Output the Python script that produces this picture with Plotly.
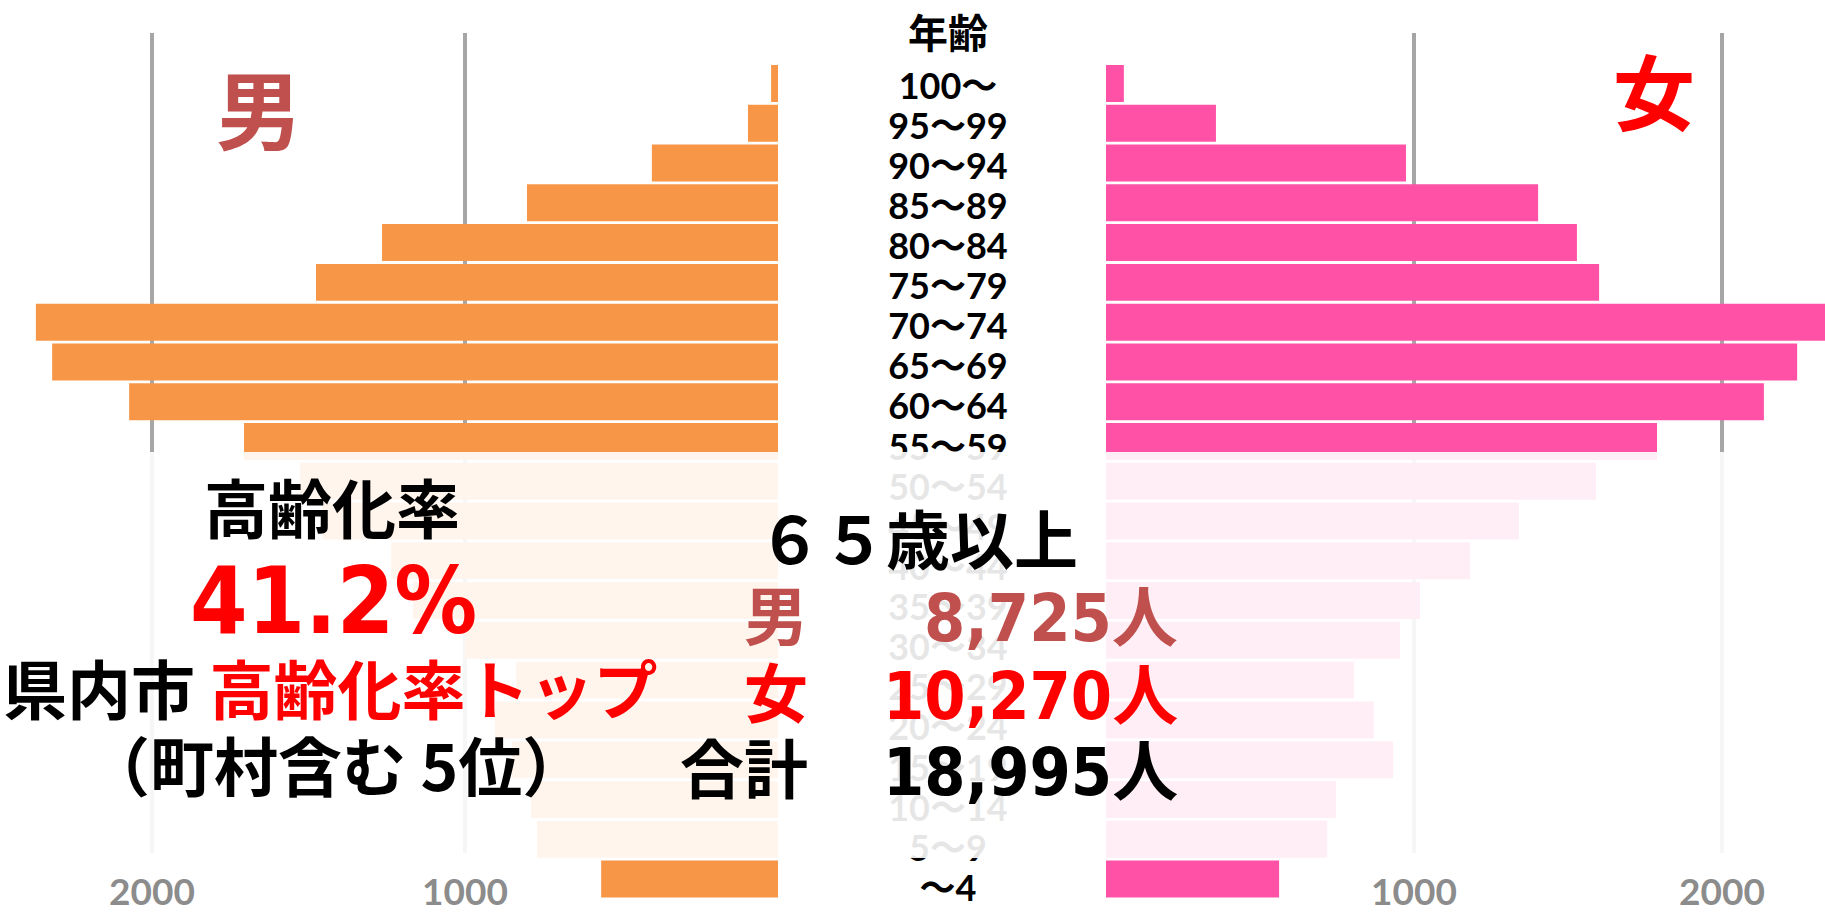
import plotly.graph_objects as go

# ---------------- data ----------------
age_labels = ["100～", "95～99", "90～94", "85～89", "80～84", "75～79", "70～74",
              "65～69", "60～64", "55～59", "50～54", "45～49", "40～44", "35～39",
              "30～34", "25～29", "20～24", "15～19", "10～14", "5～9", "～4"]
male = [22, 96, 403, 802, 1265, 1476, 2371, 2319, 2073, 1706, 1527,
        1454, 1236, 1166, 1000, 837, 904, 850, 789, 770, 565]
female = [58, 357, 974, 1403, 1529, 1601, 2380, 2244, 2136, 1789, 1591,
          1341, 1182, 1019, 955, 805, 870, 932, 747, 718, 562]
tick_vals = [1000, 2000]
tick_text = ["1000", "2000"]
elderly_male = 8725
elderly_female = 10270
elderly_total = elderly_male + elderly_female
aging_rate = 41.2
rank_incl_towns = 5

# ---------------- geometry helpers ----------------
W, H = 1825, 916


def px(x):
    return x / W


def py(y):
    return 1 - y / H


MALE_UNIT_PX = 0.313      # pixels per person, male panel
FEM_UNIT_PX = 0.308       # pixels per person, female panel
MALE_BASE = 778           # x pixel of the male bars' base
FEM_BASE = 1106           # x pixel of the female bars' base
ROW = 39.775
BAR_TOP = 83.5 - ROW / 2
BAR_BOT = 879 + ROW / 2
LAB_ROW = 40.125
LAB_TOP = 89.5 - LAB_ROW / 2
LAB_BOT = 892 + LAB_ROW / 2

MALE_C = "#F79646"
FEMALE_C = "#FF52A6"
MALE_TXT = "#C0504D"
RED = "#FF0000"
GRID = "#A6A6A6"
CJK = "Noto Sans CJK JP"
LAT = "Lato, Noto Sans CJK JP"
NUM = "DejaVu Sans Condensed, DejaVu Sans, Noto Sans CJK JP"

n = len(age_labels)
rng_cat = [n - 0.5, -0.5]

fig = go.Figure()
fig.add_trace(go.Bar(y=age_labels, x=male, orientation="h",
                     marker=dict(color=MALE_C, line=dict(width=0)),
                     xaxis="x", yaxis="y", hoverinfo="skip", showlegend=False))
fig.add_trace(go.Bar(y=age_labels, x=female, orientation="h",
                     marker=dict(color=FEMALE_C, line=dict(width=0)),
                     xaxis="x2", yaxis="y2", hoverinfo="skip", showlegend=False))
fig.add_trace(go.Scatter(x=[0] * n, y=age_labels, mode="text", text=age_labels,
                         textposition="middle center",
                         textfont=dict(family=LAT, size=36, color="black", weight="bold"),
                         xaxis="x3", yaxis="y3", hoverinfo="skip", showlegend=False))

tickfont = dict(family=LAT, size=37, color="#8C8C8C", weight="bold")
tick_pos = py(867)

fig.update_layout(
    width=W, height=H,
    margin=dict(l=0, r=0, t=0, b=0, pad=0),
    paper_bgcolor="white", plot_bgcolor="white",
    bargap=0.07,
    xaxis=dict(domain=[0, px(MALE_BASE)], range=[MALE_BASE / MALE_UNIT_PX, 0],
               tickvals=tick_vals, ticktext=tick_text, tickfont=tickfont,
               anchor="free", position=tick_pos, showgrid=False, zeroline=False,
               showline=False, ticks=""),
    yaxis=dict(domain=[py(BAR_BOT), py(BAR_TOP)], range=rng_cat, anchor="x",
               showticklabels=False, showgrid=False, zeroline=False, ticks=""),
    xaxis2=dict(domain=[px(FEM_BASE), 1], range=[0, (W - FEM_BASE) / FEM_UNIT_PX],
                tickvals=tick_vals, ticktext=tick_text, tickfont=tickfont,
                anchor="free", position=tick_pos, showgrid=False, zeroline=False,
                showline=False, ticks=""),
    yaxis2=dict(domain=[py(BAR_BOT), py(BAR_TOP)], range=rng_cat, anchor="x2",
                showticklabels=False, showgrid=False, zeroline=False, ticks=""),
    xaxis3=dict(domain=[px(848), px(1048)], range=[-1, 1], visible=False),
    yaxis3=dict(domain=[py(LAB_BOT), py(LAB_TOP)], range=rng_cat, anchor="x3",
                visible=False),
)

shapes = []
for xr in ("x", "x2"):
    for v in tick_vals:
        shapes.append(dict(type="line", xref=xr, yref="paper", x0=v, x1=v,
                           y0=py(853), y1=py(33), layer="below",
                           line=dict(color=GRID, width=4)))
# translucent white veil over the middle age groups
shapes.append(dict(type="rect", xref="paper", yref="paper", x0=0, x1=1,
                   y0=py(858), y1=py(452), layer="above",
                   fillcolor="white", opacity=0.9, line=dict(width=0)))
fig.update_layout(shapes=shapes)


def ann(text, x, y, size, color="black", xanchor="center", family=CJK):
    return dict(text=text, x=px(x), y=py(y), xref="paper", yref="paper",
                xanchor=xanchor, yanchor="middle", showarrow=False,
                font=dict(family=family, size=size, color=color, weight="bold"))


anns = [
    ann("年齢", 948, 31, 40),
    ann("男", 259, 107, 86, MALE_TXT),
    ann("女", 1654, 89, 82, RED),
    ann("高齢化率", 332, 505, 64),
    ann(f"{aging_rate}%", 333, 601, 92, RED, family=NUM),
    ann("県内市 <span style='color:#FF0000'>高齢化率トップ</span>", 1, 686, 64,
        xanchor="left"),
    ann(f"（町村含む {rank_incl_towns}位）", 336, 763, 64),
    ann("６５歳以上", 918, 536, 64),
    ann("男", 810, 612, 64, MALE_TXT, xanchor="right"),
    ann(f"{elderly_male:,}人", 1180, 618, 66, MALE_TXT, xanchor="right", family=NUM),
    ann("女", 810, 689, 64, RED, xanchor="right"),
    ann(f"{elderly_female:,}人", 1180, 696, 66, RED, xanchor="right", family=NUM),
    ann("合計", 810, 765, 64, xanchor="right"),
    ann(f"{elderly_total:,}人", 1180, 772, 66, xanchor="right", family=NUM),
]
fig.update_layout(annotations=anns)

fig.write_html("out.html", config={"displayModeBar": False},
               post_script="document.body.style.margin='0';document.body.style.overflow='hidden';")
